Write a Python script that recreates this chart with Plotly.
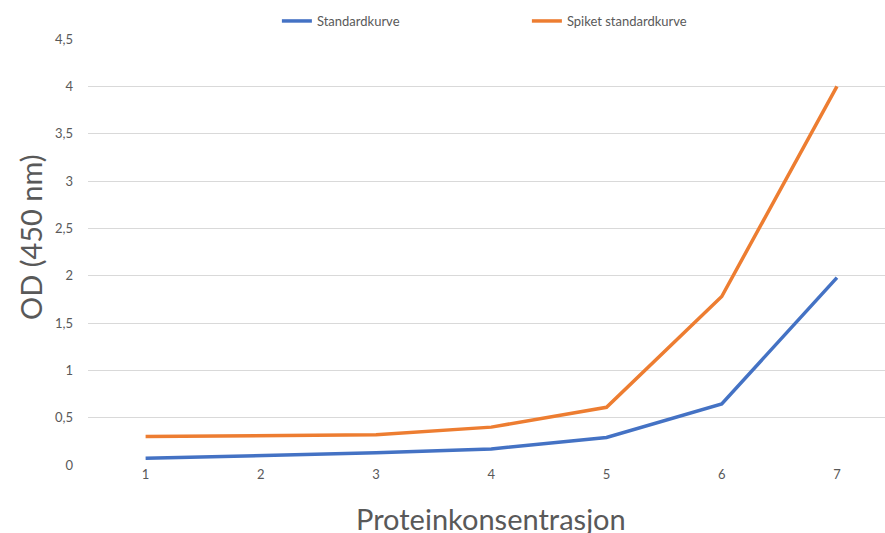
import plotly.graph_objects as go

# Protein concentration steps (categories) and measured OD at 450 nm
konsentrasjon = [1, 2, 3, 4, 5, 6, 7]
standardkurve = [0.07, 0.10, 0.13, 0.17, 0.29, 0.645, 1.98]
spiket_standardkurve = [0.30, 0.31, 0.32, 0.40, 0.61, 1.78, 4.00]

y_ticks = [0, 0.5, 1, 1.5, 2, 2.5, 3, 3.5, 4, 4.5]
y_tick_labels = ["0", "0,5", "1", "1,5", "2", "2,5", "3", "3,5", "4", "4,5"]

FONT = "Lato, 'Open Sans', sans-serif"
GREY = "#595959"

fig = go.Figure()
fig.add_trace(go.Scatter(
    x=konsentrasjon, y=standardkurve, mode="lines", name="Standardkurve",
    line=dict(color="#4472C4", width=3.5),
))
fig.add_trace(go.Scatter(
    x=konsentrasjon, y=spiket_standardkurve, mode="lines", name="Spiket standardkurve",
    line=dict(color="#ED7D31", width=3.5),
))

fig.update_layout(
    width=885, height=533,
    margin=dict(l=88, r=0, t=39, b=68),
    paper_bgcolor="white", plot_bgcolor="white",
    font=dict(family=FONT, color=GREY, size=13),
    showlegend=True,
    legend=dict(
        orientation="h", x=0.237, xanchor="left", y=(465 - 21) / 426, yanchor="middle",
        font=dict(size=13, color=GREY), entrywidth=205, entrywidthmode="pixels",
        itemwidth=30, bgcolor="rgba(0,0,0,0)",
    ),
    xaxis=dict(
        range=[0.5, 7.417], tickmode="array", tickvals=konsentrasjon,
        ticktext=[str(v) for v in konsentrasjon], showgrid=False, zeroline=False,
        showline=False, ticks="", tickfont=dict(size=13, color=GREY),
    ),
    yaxis=dict(
        range=[0, 4.5], tickmode="array", tickvals=y_ticks, ticktext=y_tick_labels,
        showgrid=True, gridcolor="#D9D9D9", gridwidth=1, zeroline=False,
        showline=False, ticks="", ticklabelstandoff=14,
        tickfont=dict(size=13, color=GREY),
    ),
    annotations=[
        dict(text="Proteinkonsentrasjon", xref="paper", yref="paper",
             x=(491 - 88) / 797, y=(465 - 499) / 426, xanchor="center", yanchor="top",
             showarrow=False, font=dict(size=29, color=GREY, family=FONT)),
        dict(text="OD (450 nm)", xref="paper", yref="paper", textangle=-90,
             x=(30 - 88) / 797, y=(465 - 237) / 426, xanchor="center", yanchor="middle",
             showarrow=False, font=dict(size=29, color=GREY, family=FONT)),
    ],
)

fig.write_html("out.html")
